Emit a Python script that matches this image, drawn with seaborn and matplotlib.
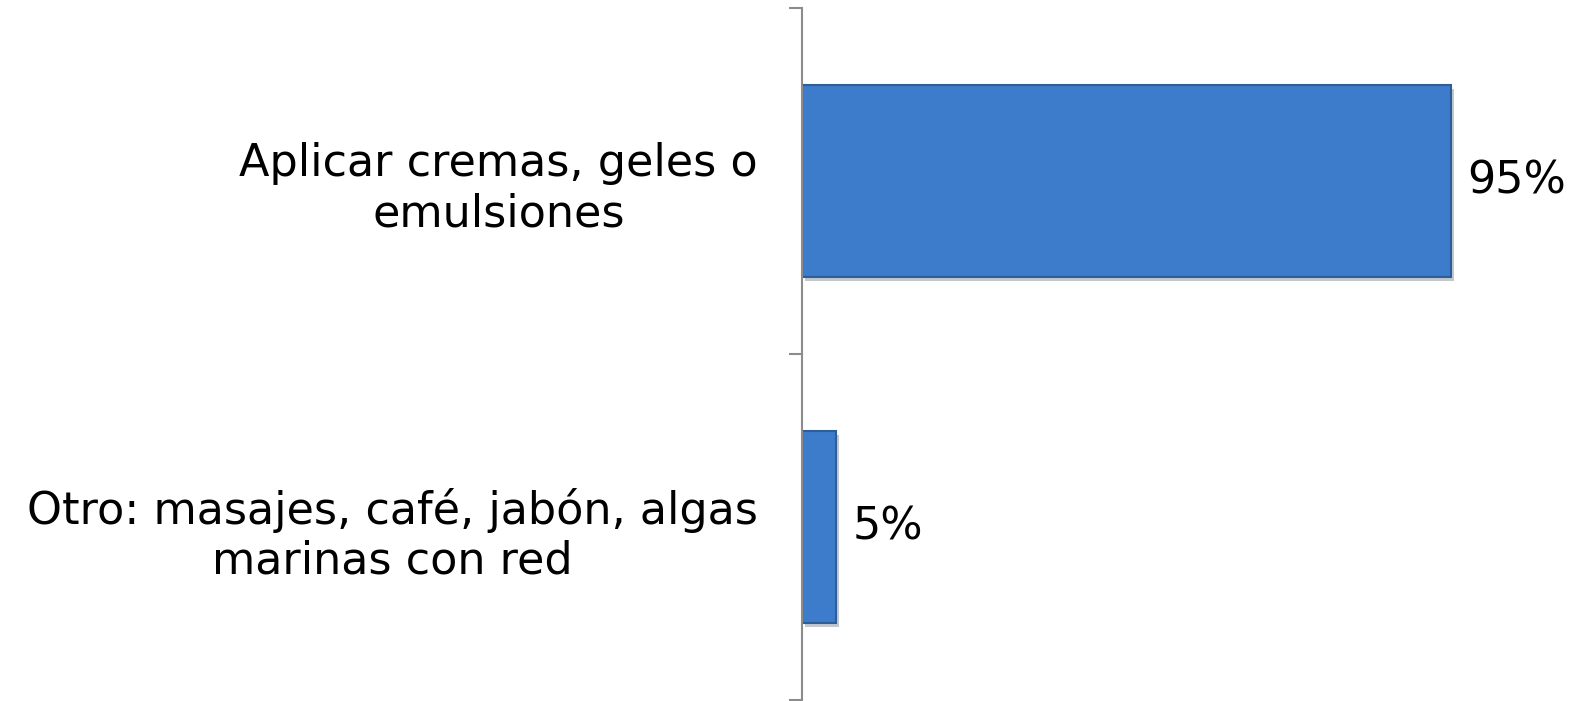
import seaborn as sns
import pandas as pd
import matplotlib.pyplot as plt
import matplotlib.patheffects as pe

# Datos
categorias = ['Aplicar cremas, geles o\nemulsiones',
              'Otro: masajes, café, jabón, algas\nmarinas con red']
valores = [95, 5]
etiquetas = ['95%', '5%']

df = pd.DataFrame({'categoria': categorias, 'valor': valores})

sns.set_style('white')
plt.rcParams['font.family'] = ['DejaVu Sans']

fig = plt.figure(figsize=(15.8, 7.01), dpi=100)
ax = fig.add_axes([0.5076, 0.0014, 0.4324, 0.9872])

sns.barplot(data=df, x='valor', y='categoria', orient='h', color='#3D7CCB',
            width=0.556, edgecolor='#2E5D98', linewidth=1.5, saturation=1, ax=ax)

# sombra ligera como en el original
for p in ax.patches:
    p.set_path_effects([pe.SimplePatchShadow(offset=(2, -3), alpha=0.25), pe.Normal()])

ax.set_xlim(0, 100)
ax.set_ylim(1.5, -0.5)
ax.set_xlabel('')
ax.set_ylabel('')
ax.set_xticks([])

# Etiquetas de categoría (centradas) y marcas en los límites
ax.tick_params(axis='y', which='major', left=False, length=0, pad=32,
               labelsize=32, labelcolor='black')
for lbl in ax.get_yticklabels():
    lbl.set_multialignment('center')
ax.set_yticks([-0.5, 0.5, 1.5], minor=True)
ax.tick_params(axis='y', which='minor', left=True, length=9.5, width=1.5, color='#8C8C8C')

for s in ['top', 'right', 'bottom']:
    ax.spines[s].set_visible(False)
ax.spines['left'].set_color('#8C8C8C')
ax.spines['left'].set_linewidth(1.5)

ax.bar_label(ax.containers[0], labels=etiquetas, padding=12, fontsize=32, color='black')

plt.savefig('out.png', dpi=100)
